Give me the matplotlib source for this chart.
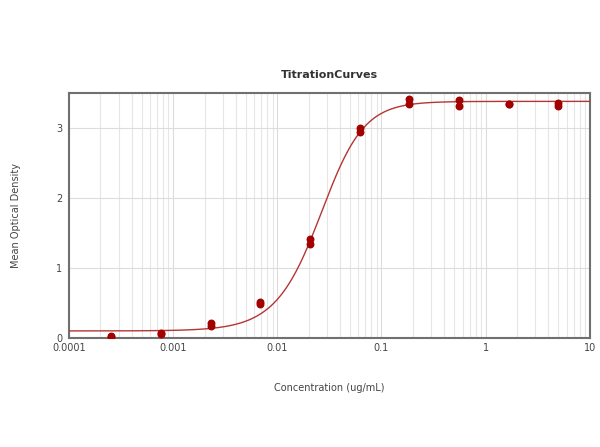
import numpy as np
import matplotlib
matplotlib.use("Agg")
import matplotlib.pyplot as plt
from matplotlib.ticker import LogLocator, FixedLocator, NullFormatter

# replicate measurements, 3-fold dilution series
conc = [0.000254, 0.000762, 0.00229, 0.00686, 0.0206, 0.0617, 0.185, 0.556, 1.667, 5.0]
od_a = [0.03, 0.07, 0.21, 0.52, 1.42, 3.00, 3.42, 3.40, 3.34, 3.36]
od_b = [0.02, 0.06, 0.17, 0.48, 1.34, 2.94, 3.34, 3.31, 3.34, 3.31]

# 5PL fit parameters
bottom, top, ec, hill, asym = 0.10, 3.38, 0.0297, 2.2, 0.8

x_ticks = [0.0001, 0.001, 0.01, 0.1, 1, 10]
x_ticklabels = ['0.0001', '0.001', '0.01', '0.1', '1', '10']
y_ticks = [0, 1, 2, 3]

fig = plt.figure(figsize=(6, 4.47), dpi=100)
ax = fig.add_axes([0.115, 0.244, 0.868, 0.548])

xs = np.logspace(-4, 1, 400)
fit = bottom + (top - bottom) / (1 + (ec / xs) ** hill) ** asym
ax.plot(xs, fit, color='#b53535', lw=1.0, zorder=3)
ax.scatter(conc, od_a, s=22, color='#a30000', zorder=4)
ax.scatter(conc, od_b, s=22, color='#a30000', zorder=4)

ax.set_xscale('log')
ax.set_xlim(0.0001, 10)
ax.set_ylim(0, 3.5)
ax.xaxis.set_major_locator(FixedLocator(x_ticks))
ax.set_xticklabels(x_ticklabels)
ax.xaxis.set_minor_locator(LogLocator(base=10, subs=np.arange(2, 10)))
ax.xaxis.set_minor_formatter(NullFormatter())
ax.set_yticks(y_ticks)

ax.grid(True, which='major', axis='both', color='#dcdcdc', lw=0.8)
ax.grid(True, which='minor', axis='x', color='#e6e6e6', lw=0.8)
ax.set_axisbelow(True)

ax.tick_params(which='both', length=0, labelsize=7, colors='#444444')
ax.tick_params(axis='x', pad=4)
ax.tick_params(axis='y', pad=5)
for s in ax.spines.values():
    s.set_color('#707070')
    s.set_linewidth(1.5)

ax.set_title('TitrationCurves', fontsize=8, fontweight='bold', color='#333333', pad=11)
ax.set_xlabel('Concentration (ug/mL)', fontsize=7, color='#444444', labelpad=21)
ax.set_ylabel('Mean Optical Density', fontsize=7, color='#444444', labelpad=25)

fig.savefig('out.png', dpi=100)
